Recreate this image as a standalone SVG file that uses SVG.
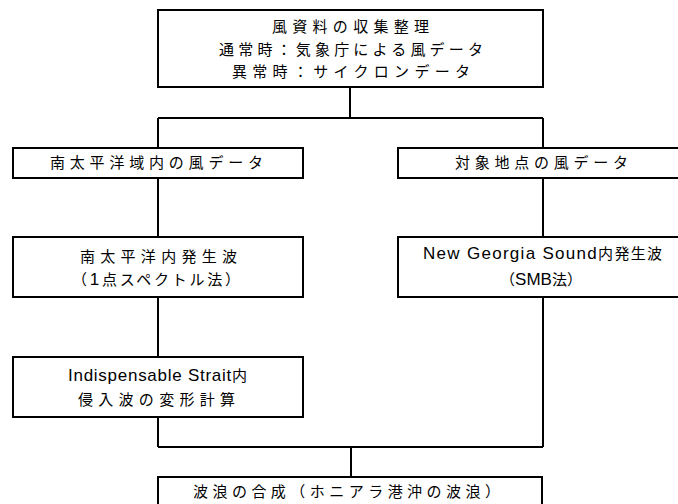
<svg xmlns="http://www.w3.org/2000/svg" width="678" height="504" viewBox="0 0 678 504">
<style>
.box{fill:#fff;stroke:#000;stroke-width:2}
.ln{fill:none;stroke:#000;stroke-width:2}
text{font-family:"Liberation Sans","Noto Sans CJK JP",sans-serif;font-size:15px;fill:#000}
.lat{font-size:17px}
</style>
<rect width="678" height="504" fill="#fff"/>
<g id="connectors">
<path class="ln" d="M350,87V118M158,118H543M158,118V148M543,118V148"/>
<path class="ln" d="M158,178V237M543,178V237"/>
<path class="ln" d="M158,297V357M158,417V447M543,297V447M158,447H543M351,447V477"/>
</g>
<g id="n1">
<rect class="box" x="158" y="10" width="385" height="77"/>
<text x="272" y="32" textLength="157" lengthAdjust="spacing">風資料の収集整理</text>
<text x="219" y="55" textLength="264" lengthAdjust="spacing">通常時：気象庁による風データ</text>
<text x="232" y="77" textLength="238" lengthAdjust="spacing">異常時：サイクロンデータ</text>
</g>
<g id="n2">
<rect class="box" x="13" y="148" width="290" height="30"/>
<text x="50" y="168" textLength="213" lengthAdjust="spacing">南太平洋域内の風データ</text>
</g>
<g id="n3">
<rect class="box" x="398" y="148" width="290" height="30"/>
<text x="455" y="168" textLength="173" lengthAdjust="spacing">対象地点の風データ</text>
</g>
<g id="n4">
<rect class="box" x="13" y="237" width="290" height="60"/>
<text x="80" y="262" textLength="157" lengthAdjust="spacing">南太平洋内発生波</text>
<text x="72" y="285" textLength="168" lengthAdjust="spacing">（<tspan class="lat">1</tspan>点スペクトル法）</text>
</g>
<g id="n5">
<rect class="box" x="398" y="237" width="290" height="60"/>
<text x="423" y="259" textLength="239" lengthAdjust="spacing"><tspan class="lat">New Georgia Sound</tspan>内発生波</text>
<text x="500" y="285" textLength="82" lengthAdjust="spacing">（<tspan class="lat">SMB</tspan>法）</text>
</g>
<g id="n6">
<rect class="box" x="13" y="357" width="290" height="60"/>
<text x="68" y="381" textLength="179" lengthAdjust="spacing"><tspan class="lat">Indispensable Strait</tspan>内</text>
<text x="78" y="405" textLength="157" lengthAdjust="spacing">侵入波の変形計算</text>
</g>
<g id="n7">
<rect class="box" x="158" y="477" width="384" height="40"/>
<text x="193" y="497" textLength="307" lengthAdjust="spacing">波浪の合成（ホニアラ港沖の波浪）</text>
</g>
</svg>
